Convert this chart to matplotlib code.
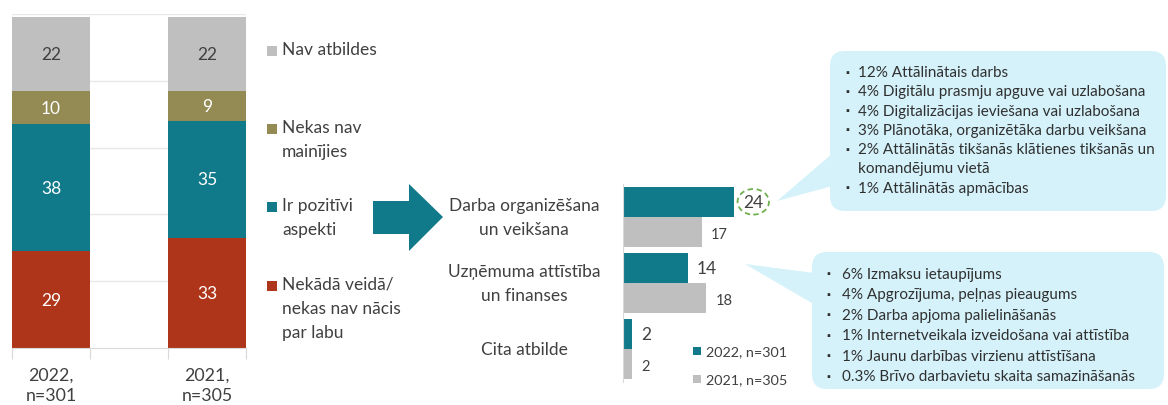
import matplotlib
matplotlib.use('Agg')
import matplotlib.pyplot as plt
from matplotlib.patches import FancyBboxPatch, Polygon, Rectangle

plt.rcParams['font.family'] = ['Lato', 'DejaVu Sans']

W, H = 1168, 406
TEAL = '#107A8B'
GRAY = '#BFBFBF'
TXT = '#404040'
BUBBLE = '#D5F2FB'

# left stacked chart
years = ['2022,\nn=301', '2021,\nn=305']
answers = ['Nekādā veidā/\nnekas nav nācis\npar labu', 'Ir pozitīvi\naspekti',
           'Nekas nav\nmainījies', 'Nav atbildes']
share_2022 = [29, 38, 10, 22]
share_2021 = [33, 35, 9, 22]
answer_colors = ['#AE3519', TEAL, '#948A54', GRAY]
value_colors = ['white', 'white', 'white', TXT]

# right bar chart
areas = ['Darba organizēšana\nun veikšana', 'Uzņēmuma attīstība\nun finanses', 'Cita atbilde']
pos_2022 = [24, 14, 2]
pos_2021 = [17, 18, 2]
series = ['2022, n=301', '2021, n=305']

# callouts
note_work = ['12% Attālinātais darbs',
             '4% Digitālu prasmju apguve vai uzlabošana',
             '4% Digitalizācijas ieviešana vai uzlabošana',
             '3% Plānotāka, organizētāka darbu veikšana',
             '2% Attālinātās tikšanās klātienes tikšanās un\nkomandējumu vietā',
             '1% Attālinātās apmācības']
note_business = ['6% Izmaksu ietaupījums',
                 '4% Apgrozījuma, peļņas pieaugums',
                 '2% Darba apjoma palielināšanās',
                 '1% Internetveikala izveidošana vai attīstība',
                 '1% Jaunu darbības virzienu attīstīšana',
                 '0.3% Brīvo darbavietu skaita samazināšanās']


def box(l, t, r, b):
    return [l / W, 1 - b / H, (r - l) / W, (b - t) / H]


fig = plt.figure(figsize=(W / 100, H / 100), dpi=100)

# overlay in pixel coordinates
ov = fig.add_axes([0, 0, 1, 1], zorder=0)
ov.set_xlim(0, W)
ov.set_ylim(H, 0)
ov.axis('off')

# ---- left chart ----
ax = fig.add_axes(box(12, 15, 246, 349), zorder=2)
ax.set_facecolor('none')
for x, vals, year in zip([0, 2], [share_2022, share_2021], years):
    bottom = 0
    for v, c, tc in zip(vals, answer_colors, value_colors):
        ax.bar(x, v, width=1, bottom=bottom, color=c, zorder=2)
        ax.text(x, bottom + v / 2, str(v), ha='center', va='center', color=tc,
                fontsize=12.5, zorder=3)
        bottom += v
    ax.text(x, -0.055, year, transform=ax.get_xaxis_transform(),
            ha='center', va='top', fontsize=12.8, color=TXT, linespacing=1.38)
ax.set_xlim(-0.5, 2.5)
ax.set_ylim(0, 100)
ax.set_yticks([20, 40, 60, 80, 100])
ax.yaxis.grid(True, color='#E8E8E8', lw=1, zorder=0)
ax.set_xticks([-0.5, 0.5, 1.5, 2.5])
ax.tick_params(axis='x', length=8, color='#D9D9D9', labelbottom=False)
ax.tick_params(axis='y', left=False, labelleft=False)
for s in ['top', 'right', 'left']:
    ax.spines[s].set_visible(False)
ax.spines['bottom'].set_color('#D9D9D9')

# left legend (top item first)
leg_y = [52, 130, 208, 287]
for name, c, y in zip(answers[::-1], answer_colors[::-1], leg_y):
    ov.add_patch(Rectangle((267, y - 5), 10, 10, color=c, lw=0))
    ov.text(282, y - 10, name, ha='left', va='top', fontsize=12.5, color=TXT,
            linespacing=1.62)

# arrow
ov.add_patch(Polygon([(373, 202), (409, 202), (409, 185), (443, 218),
                      (409, 252), (409, 235), (373, 235)], closed=True,
                     color=TEAL, lw=0))

# ---- right chart ----
ax2 = fig.add_axes(box(623, 185, 762, 383), zorder=2)
ax2.set_facecolor('none')
ypos = list(range(len(areas)))
ax2.barh([y + 0.27 for y in ypos], pos_2022, height=0.46, color=TEAL)
ax2.barh([y + 0.73 for y in ypos], pos_2021, height=0.46, color=GRAY)
ax2.set_xlim(0, 30)
ax2.set_ylim(3, 0)
for y, name, v1, v2 in zip(ypos, areas, pos_2022, pos_2021):
    ax2.annotate(name, xy=(0, y + 0.5), xycoords=ax2.get_yaxis_transform(),
                 xytext=(-99, 0), textcoords='offset pixels', ha='center',
                 va='center', fontsize=12.5, color=TXT, linespacing=1.57)
    kw = {}
    if v1 == max(pos_2022):
        kw['bbox'] = dict(boxstyle='ellipse,pad=0.06', fc='none', ec='#70B050',
                          ls=(0, (3, 2)), lw=1.3)
    ax2.annotate(str(v1), xy=(v1, y + 0.27), xytext=(9, 0),
                 textcoords='offset pixels', ha='left', va='center',
                 fontsize=12.5, color=TXT, **kw)
    ax2.annotate(str(v2), xy=(v2, y + 0.73), xytext=(9, -2),
                 textcoords='offset pixels', ha='left', va='center',
                 fontsize=10.5, color=TXT)
ax2.set_xticks([])
ax2.set_yticks([])
for s in ['top', 'right', 'bottom']:
    ax2.spines[s].set_visible(False)
ax2.spines['left'].set_color('#D9D9D9')

# right legend
for name, c, y in zip(series, [TEAL, GRAY], [352, 380]):
    ov.add_patch(Rectangle((693, y - 4), 8, 8, color=c, lw=0))
    ov.text(706, y, name, ha='left', va='center', fontsize=10.4, color=TXT)

# callout bubbles
ov.add_patch(FancyBboxPatch((830, 52), 336, 160,
                            boxstyle='round,pad=0,rounding_size=15',
                            fc=BUBBLE, ec='none'))
ov.add_patch(Polygon([(777, 202), (840, 148), (840, 185)], closed=True,
                     fc=BUBBLE, ec='none'))
ov.add_patch(FancyBboxPatch((812, 253), 352, 137,
                            boxstyle='round,pad=0,rounding_size=15',
                            fc=BUBBLE, ec='none'))
ov.add_patch(Polygon([(745, 265), (822, 275), (822, 310)], closed=True,
                     fc=BUBBLE, ec='none'))


def bullets(lines, xb, xt, y0, step):
    y = y0
    for line in lines:
        ov.text(xb, y, '▪', ha='left', va='center', fontsize=7, color='#303030')
        for part in line.split('\n'):
            ov.text(xt, y, part, ha='left', va='center', fontsize=11, color='#303030')
            y += step


bullets(note_work, 845, 858, 73, 19.3)
bullets(note_business, 826, 842, 275, 20.5)

fig.savefig('out.png', dpi=100)
